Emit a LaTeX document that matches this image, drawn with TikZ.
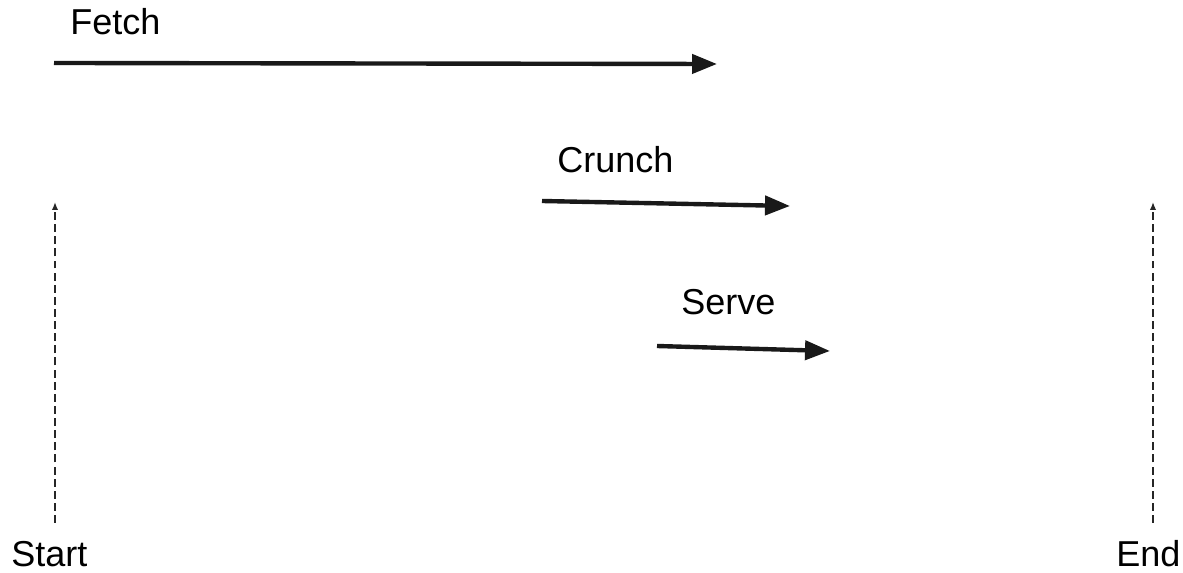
\documentclass[tikz,border=0pt]{standalone}
\usepackage{fontspec}
\setmainfont{Liberation Sans}
\usetikzlibrary{arrows.meta}

\begin{document}
\begin{tikzpicture}[
    x=0.02cm,y=-0.02cm,
    phase/.style={anchor=base west,inner sep=0pt,font=\fontsize{20.5}{24}\selectfont},
    span/.style={-{Triangle[length=5mm,width=3.8mm]},line width=2.5pt,draw=black!90},
    mark line/.style={-{Latex[length=1.6mm,width=1.3mm]},line width=1.1pt,
        dash pattern=on 4.5pt off 2.4pt,draw=black!85}
]
\useasboundingbox (0,0) rectangle (1183,573);
% phase labels
\node[phase] (fetch) at (70,35) {Fetch};
\node[phase] (crunch) at (557,173) {Crunch};
\node[phase] (serve) at (681,315) {Serve};
\node[phase] (start) at (11,567) {Start};
\node[phase] (end) at (1116,567) {End};
% arrow ends
\coordinate (fetch a) at (54,63);
\coordinate (fetch b) at (717,64);
\coordinate (crunch a) at (542,201);
\coordinate (crunch b) at (790,206);
\coordinate (serve a) at (657,346);
\coordinate (serve b) at (830,351);
\coordinate (start a) at (55,523);
\coordinate (start b) at (55,202);
\coordinate (end a) at (1153,523);
\coordinate (end b) at (1153,202);
\draw[span] (fetch a) -- (fetch b);
\draw[span] (crunch a) -- (crunch b);
\draw[span] (serve a) -- (serve b);
\draw[mark line] (start a) -- (start b);
\draw[mark line] (end a) -- (end b);
\end{tikzpicture}
\end{document}
